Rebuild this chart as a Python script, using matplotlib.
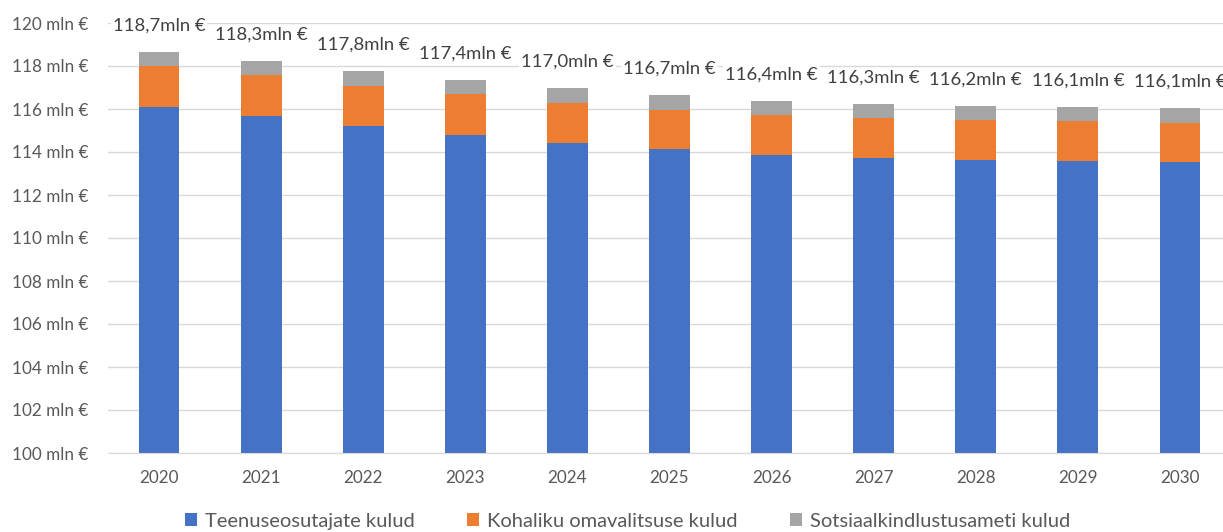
import matplotlib
matplotlib.use('Agg')
import matplotlib.pyplot as plt
import numpy as np

# andmed (loetud pildilt)
aastad = ['2020', '2021', '2022', '2023', '2024', '2025', '2026', '2027', '2028', '2029', '2030']
teenuseosutajad = [116.11, 115.69, 115.22, 114.81, 114.43, 114.14, 113.88, 113.74, 113.64, 113.60, 113.52]
kohalik = [1.90, 1.89, 1.87, 1.87, 1.86, 1.83, 1.84, 1.83, 1.85, 1.84, 1.84]
sotsiaal = [0.66, 0.65, 0.68, 0.67, 0.67, 0.66, 0.65, 0.66, 0.65, 0.65, 0.67]
sildid = ['118,7mln €', '118,3mln €', '117,8mln €', '117,4mln €', '117,0mln €', '116,7mln €',
          '116,4mln €', '116,3mln €', '116,2mln €', '116,1mln €', '116,1mln €']
y_ticks = [100, 102, 104, 106, 108, 110, 112, 114, 116, 118, 120]

plt.rcParams['font.family'] = ['Lato', 'DejaVu Sans']

fig = plt.figure(figsize=(12.23, 5.32), dpi=100)
W, H = 1223, 532
ax = fig.add_axes([108 / W, 1 - 453 / H, (1231 - 108) / W, (453 - 23) / H])

x = np.arange(len(aastad))
blue = np.array(teenuseosutajad)
orange = np.array(kohalik)
gray = np.array(sotsiaal)
bw = 0.4
ax.bar(x, blue - 100, bw, bottom=100, color='#4472C4', label='Teenuseosutajate kulud', zorder=2)
ax.bar(x, orange, bw, bottom=blue, color='#ED7D31', label='Kohaliku omavalitsuse kulud', zorder=2)
ax.bar(x, gray, bw, bottom=blue + orange, color='#A5A5A5', label='Sotsiaalkindlustusameti kulud', zorder=2)

tot = blue + orange + gray
for i in range(len(x)):
    ax.annotate(sildid[i], (x[i], tot[i]), xytext=(0, 19), textcoords='offset points',
                ha='center', va='center', fontsize=13.3, color='#404040', zorder=3,
                bbox=dict(boxstyle='square,pad=0.1', fc='white', ec='none'))

ax.set_xlim(-0.5, 10.5)
ax.set_ylim(100, 120)
ax.set_yticks(y_ticks)
ax.set_yticklabels([f'{v} mln €' for v in y_ticks])
ax.set_xticks(x)
ax.set_xticklabels(aastad)
ax.tick_params(length=0, labelsize=12.3, labelcolor='#595959')
ax.tick_params(axis='y', pad=14)
ax.tick_params(axis='x', pad=12)
ax.grid(axis='y', color='#D9D9D9', linewidth=1, zorder=0)
ax.set_axisbelow(True)
for s in ['top', 'right', 'left']:
    ax.spines[s].set_visible(False)
ax.spines['bottom'].set_color('#D9D9D9')

fig.legend(loc='lower center', bbox_to_anchor=(0.513, -0.03), ncol=3, frameon=False,
           fontsize=14.5, labelcolor='#595959', handlelength=0.6, handleheight=0.6,
           handletextpad=0.4, columnspacing=2.6)

fig.savefig('out.png', dpi=100)
